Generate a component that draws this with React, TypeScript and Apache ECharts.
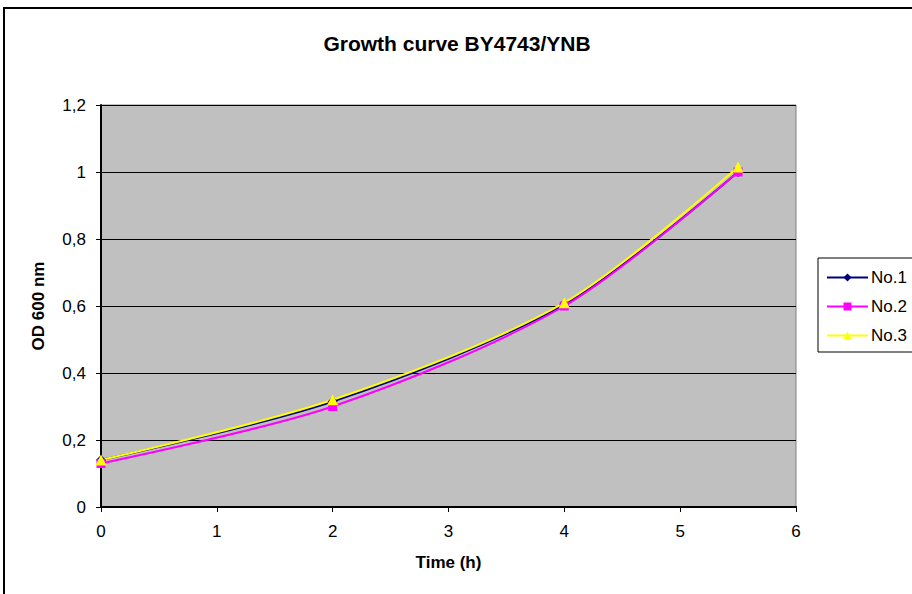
import React, { useEffect, useRef } from "react";
import * as echarts from "echarts";

const times = [0, 2, 4, 5.5];
const no1 = [0.14, 0.315, 0.605, 1.0];
const no2 = [0.13, 0.3, 0.6, 1.0];
const no3 = [0.14, 0.32, 0.61, 1.015];
const seriesNames = ["No.1", "No.2", "No.3"];

const FONT = "Liberation Sans, Arial, sans-serif";
const FS = 17;

export default function App() {
  const ref = useRef<HTMLDivElement>(null);
  useEffect(() => {
    const chart = echarts.init(ref.current!, null, { renderer: "svg" });
    const mk = (vals: number[]) => times.map((t, i) => [t, vals[i]]);
    chart.setOption({
      animation: false,
      backgroundColor: "#ffffff",
      title: {
        text: "Growth curve BY4743/YNB",
        left: 452,
        top: 28,
        textAlign: "center",
        textStyle: { fontFamily: FONT, fontSize: 21, fontWeight: "bold", color: "#000" },
      },
      graphic: [
        {
          type: "rect",
          shape: { x: 4, y: 8, width: 940, height: 620 },
          style: { fill: "none", stroke: "#000", lineWidth: 2 },
          silent: true,
        },
      ],
      legend: {
        orient: "vertical",
        left: 818,
        top: 258,
        data: seriesNames,
        borderColor: "#000",
        borderWidth: 1,
        padding: [11, 10, 8, 8],
        itemGap: 12,
        itemWidth: 41,
        itemHeight: 10,
        textStyle: { fontFamily: FONT, fontSize: FS, color: "#000", padding: [0, 0, 0, -2] },
      },
      grid: {
        left: 101,
        top: 105,
        width: 695,
        height: 402,
        show: true,
        backgroundColor: "#c0c0c0",
        borderColor: "#808080",
        borderWidth: 1,
      },
      xAxis: {
        type: "value",
        min: 0,
        max: 6,
        interval: 1,
        name: "Time (h)",
        nameLocation: "middle",
        nameGap: 47,
        nameTextStyle: { fontFamily: FONT, fontSize: FS, fontWeight: "bold", color: "#000" },
        axisLine: { show: true, lineStyle: { color: "#000", width: 2 } },
        axisTick: { show: true, length: 5, lineStyle: { color: "#000" } },
        axisLabel: { fontFamily: FONT, fontSize: FS, color: "#000", margin: 16 },
        splitLine: { show: false },
      },
      yAxis: {
        type: "value",
        min: 0,
        max: 1.2,
        interval: 0.2,
        name: "OD 600 nm",
        nameLocation: "middle",
        nameGap: 54,
        nameTextStyle: { fontFamily: FONT, fontSize: FS, fontWeight: "bold", color: "#000" },
        axisLine: { show: true, lineStyle: { color: "#000", width: 2 } },
        axisTick: { show: true, length: 5, lineStyle: { color: "#000" } },
        axisLabel: {
          fontFamily: FONT,
          fontSize: FS,
          color: "#000",
          margin: 15,
          formatter: (v: number) => String(Math.round(v * 10) / 10).replace(".", ","),
        },
        splitLine: { show: true, lineStyle: { color: "#000", width: 1 } },
      },
      series: [
        {
          name: "No.1",
          type: "line",
          data: mk(no1),
          smooth: 0.3,
          symbol: "diamond",
          symbolSize: 10,
          itemStyle: { color: "#000080" },
          lineStyle: { color: "#000080", width: 2 },
        },
        {
          name: "No.2",
          type: "line",
          data: mk(no2),
          smooth: 0.3,
          symbol: "rect",
          symbolSize: 9,
          itemStyle: { color: "#ff00ff" },
          lineStyle: { color: "#ff00ff", width: 2 },
        },
        {
          name: "No.3",
          type: "line",
          data: mk(no3),
          smooth: 0.3,
          symbol: "triangle",
          symbolSize: 11,
          itemStyle: { color: "#ffff00" },
          lineStyle: { color: "#ffff00", width: 2 },
        },
      ],
    });
    return () => chart.dispose();
  }, []);
  return (
    <div
      ref={ref}
      style={{ position: "fixed", left: 0, top: 0, width: 912, height: 594 }}
    />
  );
}
